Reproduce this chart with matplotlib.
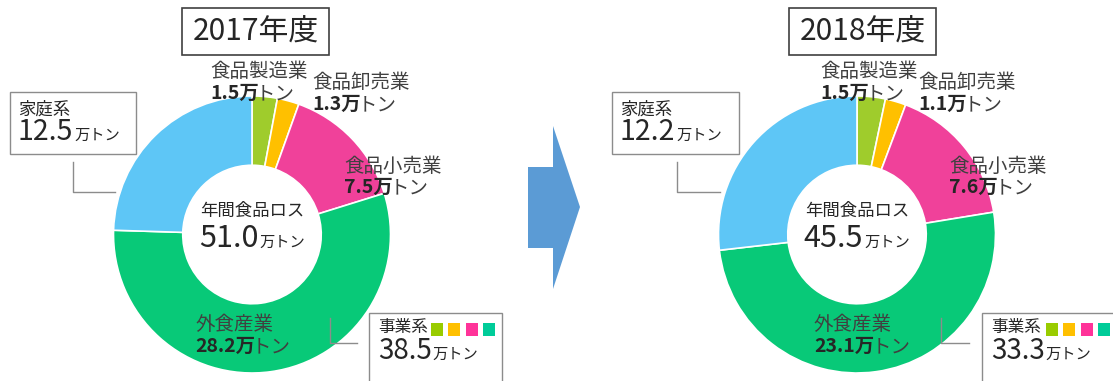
import matplotlib
matplotlib.use('Agg')
import matplotlib.pyplot as plt
from matplotlib.patches import Rectangle, Polygon

plt.rcParams['font.family'] = ['Noto Sans CJK JP', 'DejaVu Sans']

W, H = 1113, 381

# data
categories = ['食品製造業', '食品卸売業', '食品小売業', '外食産業', '家庭系']
loss_2017 = [1.5, 1.3, 7.5, 28.2, 12.5]
loss_2018 = [1.5, 1.1, 7.6, 23.1, 12.2]
years = ['2017年度', '2018年度']
unit = '万トン'

colors = ['#9fcc2c', '#ffc000', '#f0419a', '#08c978', '#5ec6f6']
square_colors = ['#99cc00', '#ffc000', '#ff3399', '#00cc99']
txt_col = '#404040'
num_col = '#262626'
line_col = '#8c8c8c'

fig = plt.figure(figsize=(W / 100, H / 100), dpi=100)
ax = fig.add_axes([0, 0, 1, 1])


def Y(y):
    return H - y


R = 138.5
centers = [(252, 234.5), (857, 234.5)]
for vals, (cx, cy) in zip([loss_2017, loss_2018], centers):
    ax.pie(vals, colors=colors, startangle=90, counterclock=False,
           center=(cx, Y(cy)), radius=R,
           wedgeprops=dict(width=R * 0.5, edgecolor='white', linewidth=1.2))

ax.set_xlim(0, W)
ax.set_ylim(0, H)
ax.set_aspect('auto')
ax.axis('off')

renderer = fig.canvas.get_renderer()


def line(x, y, parts, ha='left'):
    # text segments of different size/weight on one baseline
    arts = []
    cur = x
    for s, size, weight, color, gap in parts:
        cur += gap
        t = ax.text(cur, Y(y), s, fontsize=size, fontweight=weight,
                    color=color, ha='left', va='baseline')
        cur = t.get_window_extent(renderer).x1
        arts.append(t)
    if ha == 'center':
        shift = (cur - x) / 2
        for t in arts:
            t.set_x(t.get_position()[0] - shift)


def box(x0, y0, x1, y1, ec, lw):
    ax.add_patch(Rectangle((x0, Y(y1)), x1 - x0, y1 - y0, fill=False,
                           edgecolor=ec, linewidth=lw, clip_on=False))


def elbow(x, y0, y1, x1):
    ax.plot([x, x, x1], [Y(y0), Y(y1), Y(y1)], color=line_col, lw=1)


# arrow between charts
ax.add_patch(Polygon([(528, Y(167)), (553, Y(167)), (553, Y(126)), (580, Y(207)),
                      (553, Y(289)), (553, Y(248)), (528, Y(248))],
                     closed=True, facecolor='#5b9bd5', edgecolor='none'))

layouts = [
    dict(title=(182, 329), home=(10, 136, 92), home_ln=(73, 115),
         lab=[(210, 77, 99), (312, 88, 110), (344, 172, 193), (195, 330, 352)],
         biz=369, biz_ln=(330, 357), sq=431),
    dict(title=(789, 936), home=(612, 739, 92), home_ln=(677, 720),
         lab=[(820, 77, 99), (918, 88, 110), (949, 172, 193), (814, 330, 352)],
         biz=982, biz_ln=(941, 969), sq=1046),
]

for vals, year, (cx, cy), L in zip([loss_2017, loss_2018], years, centers, layouts):
    total = sum(vals)
    business = sum(vals[:4])

    # title box
    tx0, tx1 = L['title']
    box(tx0, 8, tx1, 55, '#404040', 1.2)
    ax.text((tx0 + tx1) / 2, Y(32), year, fontsize=21.5, color=num_col,
            ha='center', va='center')

    # centre total
    ax.text(cx, Y(216), '年間食品ロス', fontsize=12.5, color=num_col,
            ha='center', va='baseline')
    line(cx, 247, [(f'{total:.1f}', 22, 'normal', num_col, 0),
                   (unit, 11, 'normal', num_col, 1)], ha='center')

    # business sector labels
    for (lx, y1, y2), name, v in zip(L['lab'], categories[:4], vals[:4]):
        ax.text(lx, Y(y1), name, fontsize=14, color=txt_col, va='baseline')
        line(lx, y2, [(f'{v:.1f}万', 14, 'bold', num_col, 0),
                      ('トン', 14, 'normal', txt_col, -3)])

    # household box
    hx0, hx1, hy0 = L['home']
    box(hx0, hy0, hx1, 154, line_col, 1)
    ax.text(hx0 + 8, Y(115), categories[4], fontsize=12.5, color=num_col,
            va='baseline')
    line(hx0 + 8, 140, [(f'{vals[4]:.1f}', 20.5, 'normal', num_col, 0),
                        (unit, 11, 'normal', num_col, 1)])
    ex, ex1 = L['home_ln']
    elbow(ex, 162, 192, ex1)

    # business total box
    bx = L['biz']
    box(bx, 313, bx + 133, 400, line_col, 1)
    ax.text(bx + 9, Y(332), '事業系', fontsize=12, color=num_col, va='baseline')
    for i, c in enumerate(square_colors):
        ax.add_patch(Rectangle((L['sq'] + i * 17.3, Y(336)), 12, 13,
                               facecolor=c, edgecolor='none', clip_on=True))
    line(bx + 9, 359, [(f'{business:.1f}', 20, 'normal', num_col, 0),
                       (unit, 11, 'normal', num_col, 1)])
    bx0, bx1 = L['biz_ln']
    elbow(bx0, 318, 343, bx1)

fig.savefig('out.png', dpi=100)
